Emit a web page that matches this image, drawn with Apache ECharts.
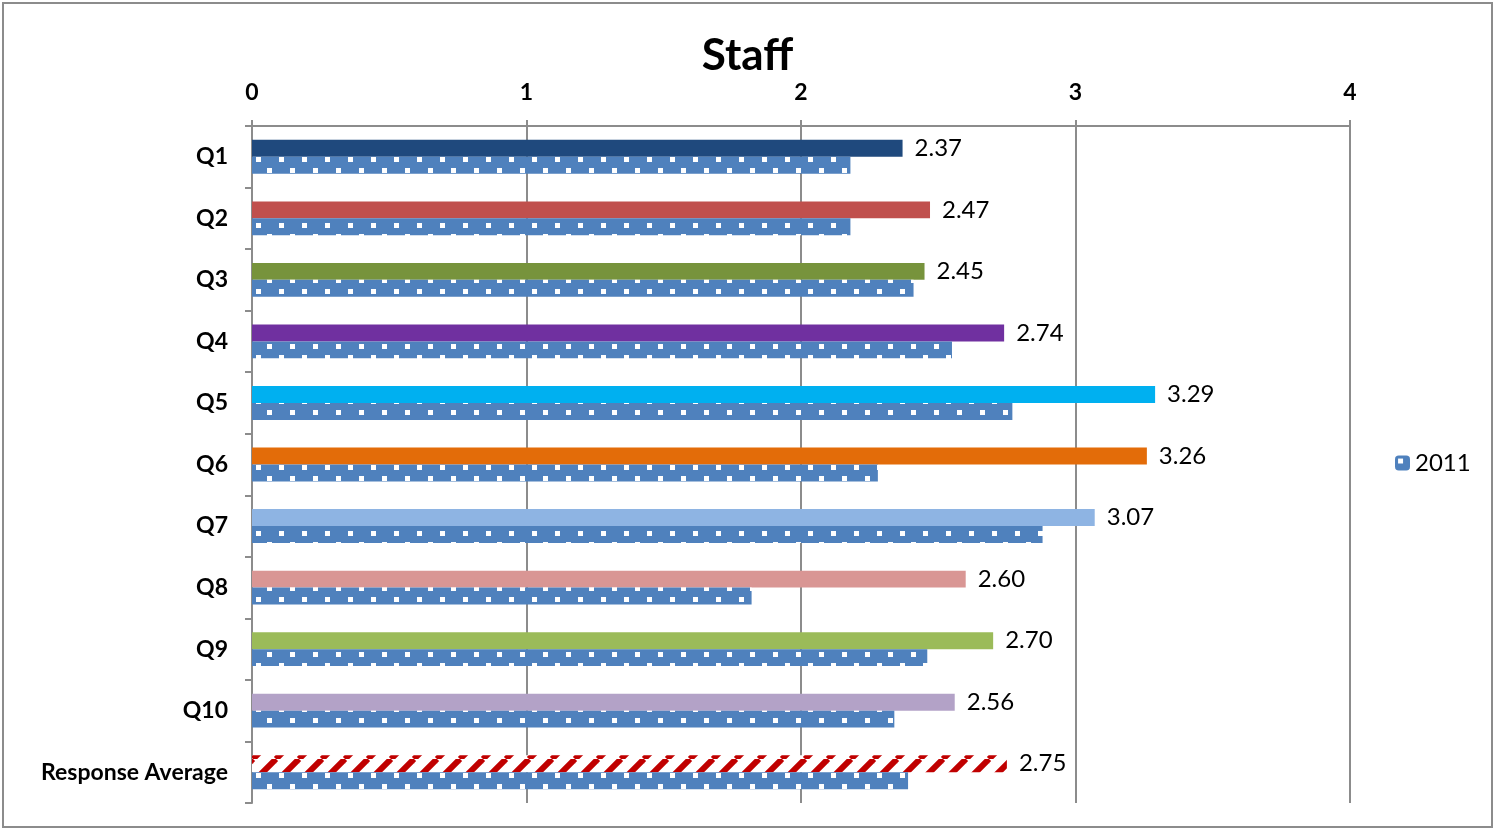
<!DOCTYPE html>
<html>
<head>
<meta charset="utf-8">
<script src="https://cdn.jsdelivr.net/npm/echarts@6/dist/echarts.min.js"></script>
<style>
  html, body { margin: 0; padding: 0; background: #fff; }
  #chart { width: 1495px; height: 831px; }
</style>
</head>
<body>
<div id="chart"></div>
<script>
// Survey questions, top to bottom
const categories = ['Q1', 'Q2', 'Q3', 'Q4', 'Q5', 'Q6', 'Q7', 'Q8', 'Q9', 'Q10', 'Response Average'];
// Current-year scores (labelled bars)
const values2012 = [2.37, 2.47, 2.45, 2.74, 3.29, 3.26, 3.07, 2.60, 2.70, 2.56, 2.75];
// Prior-year scores (dotted bars)
const values2011 = [2.18, 2.18, 2.41, 2.55, 2.77, 2.28, 2.88, 1.82, 2.46, 2.34, 2.39];
// Value axis ticks
const axisMin = 0, axisMax = 4, axisStep = 1;

const FONT = 'Lato, "Open Sans", sans-serif';

// Blue fill with small white squares
function dotPattern() {
  const c = document.createElement('canvas');
  c.width = 23; c.height = 22;
  const g = c.getContext('2d');
  g.fillStyle = '#4F81BD';
  g.fillRect(0, 0, 23, 22);
  g.fillStyle = '#ffffff';
  g.fillRect(3, 3, 5, 5);
  g.fillRect(14, 14, 5, 5);
  return c;
}

// Red diagonal stripes on white
function stripePattern() {
  const c = document.createElement('canvas');
  c.width = 23; c.height = 23;
  const g = c.getContext('2d');
  g.fillStyle = '#ffffff';
  g.fillRect(0, 0, 23, 23);
  g.strokeStyle = '#C00000';
  g.lineWidth = 6;
  for (let x = -23; x <= 23; x += 23) {
    g.beginPath();
    g.moveTo(x, 23);
    g.lineTo(x + 23, 0);
    g.stroke();
  }
  return c;
}

const dotFill = { image: dotPattern(), repeat: 'repeat' };
const stripeFill = { image: stripePattern(), repeat: 'repeat' };

const barColors = ['#1F497D', '#C0504D', '#77933C', '#7030A0', '#00B0F0', '#E36C09',
                   '#8EB4E3', '#D99694', '#9BBB59', '#B3A2C7', stripeFill];

const chart = echarts.init(document.getElementById('chart'));

chart.setOption({
  animation: false,
  backgroundColor: '#ffffff',
  title: {
    text: 'Staff',
    left: 'center',
    top: 29,
    textStyle: { fontFamily: FONT, fontSize: 44, fontWeight: 'bold', color: '#000' }
  },
  legend: {
    data: ['2011'],
    left: 1390,
    top: 446,
    itemWidth: 15,
    itemHeight: 15,
    itemGap: 4,
    textStyle: { fontFamily: FONT, fontSize: 24, color: '#000' }
  },
  grid: { left: 252, right: 145, top: 126, bottom: 28 },
  xAxis: {
    type: 'value',
    position: 'top',
    min: axisMin,
    max: axisMax,
    interval: axisStep,
    axisLine: { show: true, lineStyle: { color: '#8c8c8c', width: 2 } },
    axisTick: { show: true, length: 6, lineStyle: { color: '#8c8c8c', width: 2 } },
    axisLabel: { fontFamily: FONT, fontSize: 23, fontWeight: 'bold', color: '#000', margin: 22 },
    splitLine: { show: true, lineStyle: { color: '#8c8c8c', width: 2 } }
  },
  yAxis: {
    type: 'category',
    inverse: true,
    data: categories,
    axisLine: { show: true, lineStyle: { color: '#8c8c8c', width: 2 } },
    axisTick: { show: true, length: 7, lineStyle: { color: '#8c8c8c', width: 2 } },
    axisLabel: { fontFamily: FONT, fontSize: 23, fontWeight: 'bold', color: '#000', margin: 24 }
  },
  series: [
    {
      name: '2012',
      type: 'bar',
      barCategoryGap: '45%',
      barGap: '0%',
      data: values2012.map((v, i) => ({ value: v, itemStyle: { color: barColors[i] } })),
      label: {
        show: true,
        position: 'right',
        distance: 12,
        fontFamily: FONT,
        fontSize: 24,
        color: '#000',
        formatter: p => p.value.toFixed(2)
      }
    },
    {
      name: '2011',
      type: 'bar',
      barCategoryGap: '45%',
      barGap: '0%',
      data: values2011,
      itemStyle: { color: dotFill }
    }
  ],
  graphic: [{
    type: 'rect',
    shape: { x: 3, y: 3, width: 1489, height: 824 },
    style: { fill: 'none', stroke: '#8c8c8c', lineWidth: 2 },
    silent: true
  }]
});
</script>
</body>
</html>
